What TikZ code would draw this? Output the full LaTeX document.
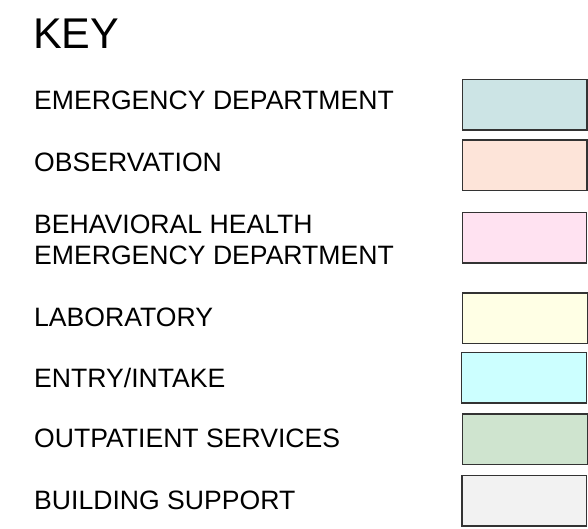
\documentclass[tikz,border=0pt]{standalone}
\usepackage{fontspec}
\setmainfont{Liberation Sans}
\definecolor{edfill}{HTML}{CCE4E5}
\definecolor{obsfill}{HTML}{FDE4D9}
\definecolor{bhfill}{HTML}{FFE2F1}
\definecolor{labfill}{HTML}{FFFFE5}
\definecolor{entryfill}{HTML}{CCFFFF}
\definecolor{opfill}{HTML}{CFE4CF}
\definecolor{bsfill}{HTML}{F2F2F2}
\definecolor{edgegray}{HTML}{333333}
\begin{document}
\begin{tikzpicture}[x=1pt,y=-1pt,
  keylabel/.style={anchor=base west,inner sep=0pt,font=\fontsize{26.6}{31}\selectfont,align=left},
  swatch/.style={draw=edgegray,line width=1.3pt,minimum width=124.5pt,minimum height=50.5pt,inner sep=0pt,anchor=north west}]
\useasboundingbox (0,0) rectangle (588,529);

\node[anchor=base west,inner sep=0pt,font=\fontsize{43}{50}\selectfont] (title) at (33,49) {KEY};

\node[keylabel] (ed)    at (34,109.5) {EMERGENCY DEPARTMENT};
\node[keylabel] (obs)   at (34,171.5) {OBSERVATION};
\node[keylabel,anchor=north west] (bh) at (34,211.5) {\strut BEHAVIORAL HEALTH\\EMERGENCY DEPARTMENT};
\node[keylabel] (lab)   at (34,326) {LABORATORY};
\node[keylabel] (entry) at (34,387.3) {ENTRY/INTAKE};
\node[keylabel] (op)    at (34,447.3) {OUTPATIENT SERVICES};
\node[keylabel] (bs)    at (34,509.3) {BUILDING SUPPORT};

\node[swatch,fill=edfill]    (ed-box)    at (461.7,79)   {};
\node[swatch,fill=obsfill]   (obs-box)   at (461.7,139.3){};
\node[swatch,fill=bhfill]    (bh-box)    at (461.5,211.7){};
\node[swatch,fill=labfill]   (lab-box)   at (462,292.3)  {};
\node[swatch,fill=entryfill] (entry-box) at (461,351.7)  {};
\node[swatch,fill=opfill]    (op-box)    at (462,413.3)  {};
\node[swatch,fill=bsfill]    (bs-box)    at (461.3,474.7){};
\end{tikzpicture}
\end{document}
